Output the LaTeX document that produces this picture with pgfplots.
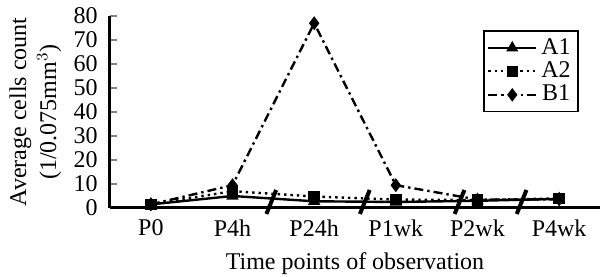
\documentclass[border=0pt]{standalone}
\usepackage{pgfplots}
\pgfplotsset{compat=1.18}
\usepackage{fontspec}
\setmainfont{Liberation Serif}
\begin{document}
\fontsize{12}{14}\selectfont\rmfamily
\begin{tikzpicture}
\path[use as bounding box] (-55pt,-34.5pt) rectangle (247.5pt,104pt);
\begin{axis}[
  at={(0,0)}, anchor=south west,
  scale only axis, width=245pt, height=96pt,
  xmin=-0.5, xmax=5.5, ymin=0, ymax=80,
  axis lines=left, axis line style={line width=1.5pt, -},
  xtick={0,1,2,3,4,5},
  xticklabels={P0,P4h,P24h,P1wk,P2wk,P4wk},
  x tick style={draw=none},
  extra x ticks={0.5,5.5}, extra x tick labels={},
  extra x tick style={tick style={draw=black, line width=0.8pt}, major tick length=4pt},
  ytick={0,10,...,80},
  y tick style={line width=1pt}, major tick length=3.5pt,
  tick align=inside,
  tick label style={font=\rmfamily\fontsize{12}{14}\selectfont},
  x tick label style={yshift=-1.5pt},
  y tick label style={xshift=-2pt},
  xlabel={Time points of observation},
  ylabel={Average cells count\\(1/0.075mm$^3$)},
  label style={font=\rmfamily\fontsize{12}{15}\selectfont},
  ylabel style={align=center, yshift=-2pt},
  xlabel style={yshift=0pt},
  /pgf/number format/assume math mode=true,
  clip=false,
  legend style={at={(0.762,0.925)}, anchor=north west, draw=black, line width=0.8pt,
    font=\rmfamily\fontsize{12}{14}\selectfont, row sep=-2pt, inner sep=1.5pt},
  legend image post style={line width=1.1pt},
  legend image code/.code={\draw[#1] (0pt,0pt) -- (24pt,0pt); \draw[#1, mark repeat=2, mark phase=2] plot coordinates {(0pt,0pt) (12pt,0pt) (24pt,0pt)};},
  every axis plot/.append style={line width=1.2pt, black},
]
\addplot[solid, mark=triangle*, mark size=2.4pt, mark options={solid}] coordinates {(0,1.5) (1,5) (2,2.8) (3,2.5) (4,3) (5,3.8)};
\addlegendentry{A1}
\addplot[dash pattern=on 1.2pt off 2pt, mark=square*, mark size=2.3pt, mark options={solid}] coordinates {(0,1.5) (1,7) (2,4.8) (3,3.5) (4,3.3) (5,4)};
\addlegendentry{A2}
\addplot[dash pattern=on 4.5pt off 2pt on 1.2pt off 2pt, mark=diamond*, mark size=2.5pt, mark options={solid}] coordinates {(0,1.5) (1,9.5) (2,77) (3,9.5) (4,3.5) (5,3.6)};
\addlegendentry{B1}
\draw[line width=2pt, black] (axis cs:1.415,-2.5) -- (axis cs:1.535,7.5);
\draw[line width=2pt, black] (axis cs:2.56,-2.5) -- (axis cs:2.68,7.5);
\draw[line width=2pt, black] (axis cs:3.72,-2.5) -- (axis cs:3.84,7.5);
\draw[line width=2pt, black] (axis cs:4.48,-2.5) -- (axis cs:4.60,7.5);
\end{axis}
\end{tikzpicture}
\end{document}
